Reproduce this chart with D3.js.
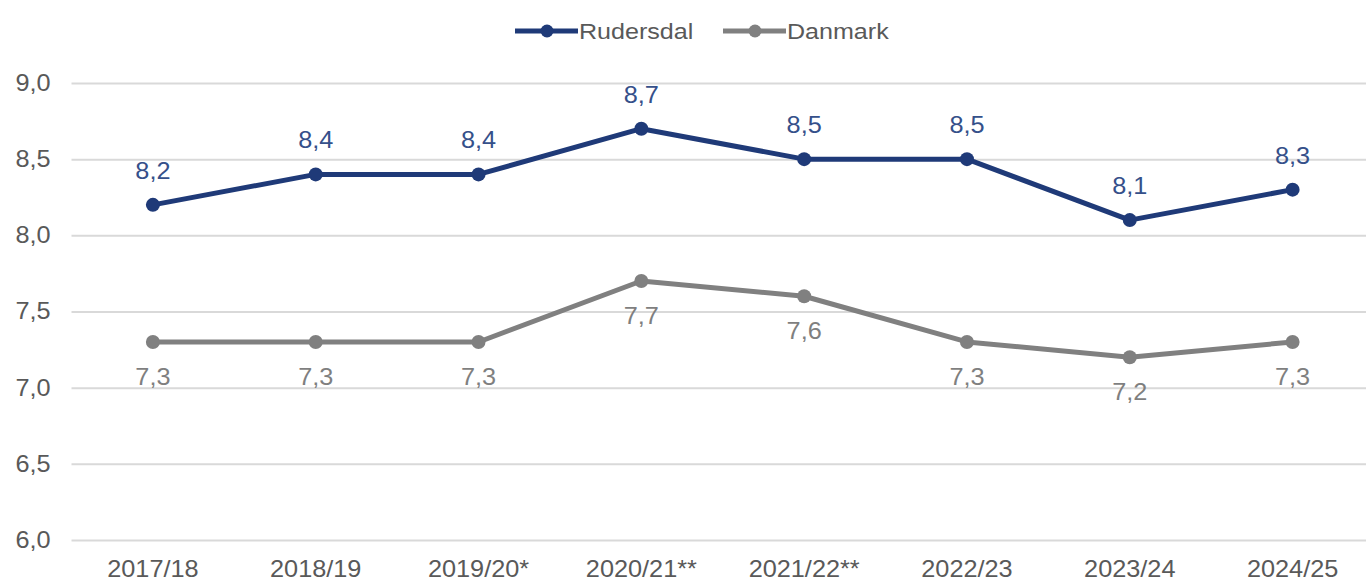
<!DOCTYPE html>
<html>
<head>
<meta charset="utf-8">
<script src="https://cdn.jsdelivr.net/npm/d3@7"></script>
<style>
  body { margin: 0; background: #fff; }
  text { font-family: "Liberation Sans", Arial, sans-serif; }
</style>
</head>
<body>
<div class="main"></div>
<script>
const width = 1366;
const height = 581;
const fontSize = 23;
const stretch = 1.1; // the source text looks a bit wider than plain Arial

const years = ["2017/18", "2018/19", "2019/20*", "2020/21**", "2021/22**", "2022/23", "2023/24", "2024/25"];
const rudersdal = [8.2, 8.4, 8.4, 8.7, 8.5, 8.5, 8.1, 8.3];
const danmark = [7.3, 7.3, 7.3, 7.7, 7.6, 7.3, 7.2, 7.3];
const yTicks = [6.0, 6.5, 7.0, 7.5, 8.0, 8.5, 9.0];

const navy = "#1f3a78";
const grey = "#808080";
const fmt = (v) => d3.format(".1f")(v).replace(".", ",");

const x = d3.scaleBand()
  .domain(years)
  .range([71.5, 1374]);

const y = d3.scaleLinear()
  .domain([6, 9])
  .range([540, 83]);

const svg = d3.select(".main")
  .append("svg")
    .attr("width", width)
    .attr("height", height);

// gridlines + y labels
const yAxis = svg.append("g")
  .attr("transform", `translate(${x.range()[0]},0)`)
  .call(d3.axisLeft(y).tickValues(yTicks).tickFormat(fmt)
    .tickSize(-(width - x.range()[0])).tickPadding(19))
yAxis.select(".domain").remove()
yAxis.selectAll("line").attr("stroke", "#d9d9d9").attr("stroke-width", 2)
yAxis.selectAll("text")
  .attr("fill", "#595959")
  .attr("font-size", fontSize + "px")
  .attr("transform", `scale(${stretch},1)`)

// x labels
const xAxis = svg.append("g")
  .attr("transform", "translate(0,540)")
  .call(d3.axisBottom(x).tickSize(0).tickPadding(21))
xAxis.select(".domain").remove()
xAxis.selectAll("text")
  .attr("fill", "#595959")
  .attr("font-size", fontSize + "px")
  .attr("transform", `scale(${stretch},1)`)

const cx = (d) => x(d) + x.bandwidth() / 2;

const series = [
  { name: "Danmark", values: danmark, color: grey, labelColor: "#7f7f7f", dy: 43 },
  { name: "Rudersdal", values: rudersdal, color: navy, labelColor: "#35508a", dy: -26 }
];

const line = d3.line()
  .x((d) => cx(d.year))
  .y((d) => y(d.value));

series.forEach((s) => {
  const pts = years.map((yr, i) => ({ year: yr, value: s.values[i] }));
  const g = svg.append("g").attr("id", s.name);

  g.append("path")
    .datum(pts)
    .attr("fill", "none")
    .attr("stroke", s.color)
    .attr("stroke-width", 5)
    .attr("stroke-linejoin", "round")
    .attr("d", line)

  g.selectAll("circle")
    .data(pts)
    .join("circle")
      .attr("cx", (d) => cx(d.year))
      .attr("cy", (d) => y(d.value))
      .attr("r", 7)
      .attr("fill", s.color)

  g.selectAll("text.lbl")
    .data(pts)
    .join("text")
      .attr("class", "lbl")
      .attr("transform", (d) => `translate(${cx(d.year)},${y(d.value) + s.dy}) scale(${stretch},1)`)
      .attr("text-anchor", "middle")
      .attr("fill", s.labelColor)
      .attr("font-size", fontSize + "px")
      .text((d) => fmt(d.value))
});

// Legend
const legend = [
  { name: "Rudersdal", color: navy, x: 515 },
  { name: "Danmark", color: grey, x: 723 }
];
const lg = svg.selectAll("g.legend")
  .data(legend)
  .join("g")
    .attr("class", "legend")
    .attr("transform", (d) => `translate(${d.x},31)`)
lg.append("line")
  .attr("x1", 0).attr("x2", 63)
  .attr("stroke", (d) => d.color)
  .attr("stroke-width", 5)
lg.append("circle")
  .attr("cx", 32).attr("r", 6.5)
  .attr("fill", (d) => d.color)
lg.append("text")
  .attr("transform", `translate(64,0) scale(${stretch + 0.04},1)`)
  .attr("dy", "0.35em")
  .attr("fill", "#595959")
  .attr("font-size", "22px")
  .text((d) => d.name)
</script>
</body>
</html>
